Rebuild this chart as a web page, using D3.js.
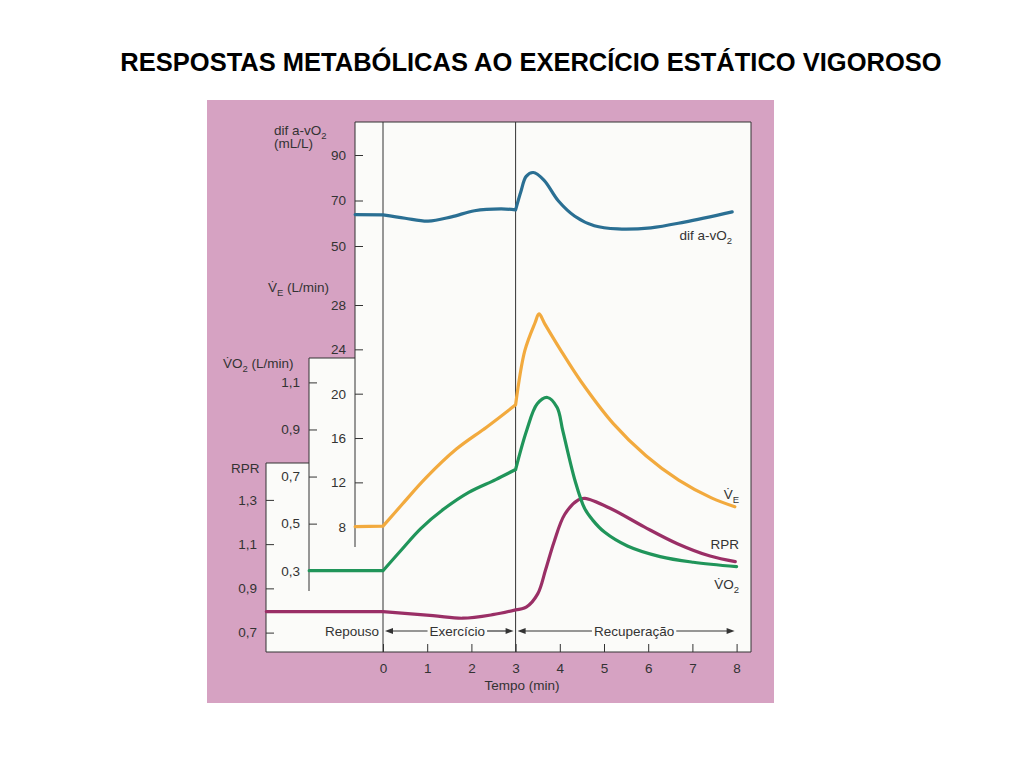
<!DOCTYPE html>
<html>
<head>
<meta charset="utf-8">
<script src="https://cdn.jsdelivr.net/npm/d3@7"></script>
<style>
body { margin: 0; background: #fff; }
svg { display: block; font-family: 'Liberation Sans', Arial, sans-serif; }
</style>
</head>
<body>
<div id="chart"></div>
<script>
'use strict';

var title = 'RESPOSTAS METABÓLICAS AO EXERCÍCIO ESTÁTICO VIGOROSO';

// tempo (min)
var timeTicks = [0, 1, 2, 3, 4, 5, 6, 7, 8];
var phases = [
  { name: 'Exercício', from: 0, to: 3 },
  { name: 'Recuperação', from: 3, to: 8 }
];

// ticks of the four left axes
var difTicks = [50, 70, 90];
var veTicks = [8, 12, 16, 20, 24, 28];
var vo2Ticks = [0.3, 0.5, 0.7, 0.9, 1.1];
var rprTicks = [0.7, 0.9, 1.1, 1.3];

// series as [tempo, valor]
var difData = [[-0.63, 63.8], [0, 63.7], [0.5, 62.2], [1.02, 60.9], [1.55, 62.8], [2.07, 65.5], [2.67, 66.3], [3, 65.9],
  [3.12, 74], [3.24, 80.6], [3.4, 82.3], [3.64, 79], [3.97, 69.8], [4.34, 63.1], [4.78, 58.9], [5.31, 57.5],
  [6.06, 58.0], [6.82, 60.5], [7.9, 65.0]];
var veData = [[-0.63, 8.0], [0, 8.05], [0.43, 10.0], [0.97, 12.4], [1.66, 15.0], [2.35, 17.0], [3, 19.0],
  [3.21, 23.9], [3.44, 26.4], [3.53, 27.2], [3.66, 26.3], [4.04, 23.8], [4.48, 21.1], [5.21, 17.3], [5.95, 14.4],
  [6.69, 12.2], [7.43, 10.6], [7.96, 9.8]];
var vo2Data = [[-1.67, 0.30], [0, 0.30], [0.4, 0.385], [0.86, 0.48], [1.39, 0.564], [1.94, 0.633], [2.55, 0.687],
  [3, 0.73], [3.25, 0.896], [3.49, 1.009], [3.72, 1.036], [3.94, 0.993], [4.07, 0.893], [4.35, 0.679],
  [4.56, 0.565], [4.74, 0.516], [5.01, 0.464], [5.53, 0.405], [6.27, 0.36], [7.02, 0.336], [8.0, 0.317]];
var rprData = [[-2.64, 0.795], [0, 0.795], [1.13, 0.777], [1.8, 0.765], [2.48, 0.781], [3, 0.803],
  [3.24, 0.815], [3.5, 0.875], [3.68, 0.985], [3.87, 1.11], [4.11, 1.234], [4.42, 1.3], [4.57, 1.307],
  [5.16, 1.26], [5.91, 1.178], [6.66, 1.102], [7.4, 1.046], [7.97, 1.021]];

var pink = '#d6a2c2';
var ink = '#333';
var font = 13.5;

var frame = { left: 355, right: 751, top: 122, bottom: 652 };
var vo2Left = 309, vo2Top = 358, vo2Bottom = 591;
var rprLeft = 266, rprTop = 463;
var veBottom = 547;

var svg = d3.select('#chart').append('svg').attr('width', 1024).attr('height', 768);

var x = d3.scaleLinear().domain([0, 8]).range([383, 736.6]);
var yDif = d3.scaleLinear().domain([50, 90]).range([246, 155]);
var yVe = d3.scaleLinear().domain([8, 28]).range([526.7, 305]);
var yVo2 = d3.scaleLinear().domain([0.3, 1.1]).range([570.7, 382.4]);
var yRpr = d3.scaleLinear().domain([0.7, 1.3]).range([632.6, 499.9]);

var ptBR = d3.formatLocale({ decimal: ',', thousands: '.', grouping: [3], currency: ['', ''] });

svg.append('text').attr('x', 531).attr('y', 71).attr('text-anchor', 'middle')
  .attr('font-size', 25.5).attr('font-weight', 'bold').attr('fill', '#000').text(title);

// page background
svg.append('rect').attr('x', 207).attr('y', 100).attr('width', 567).attr('height', 603).attr('fill', pink);

// stepped white plot area
var outline = 'M' + rprLeft + ',' + frame.bottom + 'V' + rprTop + 'H' + vo2Left + 'V' + vo2Top +
  'H' + frame.left + 'V' + frame.top + 'H' + frame.right + 'V' + frame.bottom + 'Z';
svg.append('path').attr('d', outline).attr('fill', '#fbfbf9').attr('stroke', ink).attr('stroke-width', 1);

// axis lines running down inside the lower boxes
svg.append('line').attr('x1', frame.left).attr('x2', frame.left).attr('y1', vo2Top).attr('y2', veBottom)
  .attr('stroke', ink);
svg.append('line').attr('x1', vo2Left).attr('x2', vo2Left).attr('y1', rprTop).attr('y2', vo2Bottom)
  .attr('stroke', ink);

// phase boundaries
svg.selectAll('line.phase').data([0, 3]).enter().append('line').attr('class', 'phase')
  .attr('x1', function (d) { return x(d); }).attr('x2', function (d) { return x(d); })
  .attr('y1', frame.top).attr('y2', frame.bottom).attr('stroke', ink).attr('stroke-width', 1);

function leftAxis(scale, ticks, xPos, fmt) {
  var g = svg.append('g').attr('transform', 'translate(' + xPos + ',0)')
    .call(d3.axisLeft(scale).tickValues(ticks).tickSize(-8).tickPadding(9).tickFormat(fmt));
  g.select('.domain').remove();
  g.selectAll('line').attr('stroke', ink);
  g.selectAll('text').attr('font-size', font).attr('fill', ink).attr('font-family', null);
}

leftAxis(yDif, difTicks, frame.left, d3.format('d'));
leftAxis(yVe, veTicks, frame.left, d3.format('d'));
leftAxis(yVo2, vo2Ticks, vo2Left, ptBR.format('.1f'));
leftAxis(yRpr, rprTicks, rprLeft, ptBR.format('.1f'));

var xg = svg.append('g').attr('transform', 'translate(0,' + frame.bottom + ')')
  .call(d3.axisBottom(x).tickValues(timeTicks).tickSize(-8).tickPadding(11).tickFormat(d3.format('d')));
xg.select('.domain').remove();
xg.selectAll('line').attr('stroke', ink);
xg.selectAll('text').attr('font-size', font).attr('fill', ink).attr('font-family', null);

svg.append('text').attr('x', 522).attr('y', 690).attr('text-anchor', 'middle')
  .attr('font-size', font).attr('fill', ink).text('Tempo (min)');

// axis titles
function label(xPos, yPos, parts, anchor) {
  var t = svg.append('text').attr('x', xPos).attr('y', yPos).attr('font-size', font).attr('fill', ink)
    .attr('text-anchor', anchor || 'start');
  var shift = 0;
  parts.forEach(function (p) {
    var s = t.append('tspan').text(p[0]);
    if (p[1] === 'sub') {
      s.attr('font-size', 9.5).attr('dy', 4 - shift);
      shift = 4;
    } else if (shift) {
      s.attr('dy', -shift);
      shift = 0;
    }
  });
  return t;
}

label(274, 135, [['dif a-vO'], ['2', 'sub']]);
label(274, 148, [['(mL/L)']]);
label(268, 292, [['V\u0307'], ['E', 'sub'], [' (L/min)']]);
label(223, 368, [['V\u0307O'], ['2', 'sub'], [' (L/min)']]);
label(231, 473, [['RPR']]);

// series labels at the right end
label(732, 240, [['dif a-vO'], ['2', 'sub']], 'end');
label(739, 499, [['V\u0307'], ['E', 'sub']], 'end');
label(739, 549, [['RPR']], 'end');
label(739, 589, [['V\u0307O'], ['2', 'sub']], 'end');

// phase captions with arrows
var arrowY = 631;
svg.append('text').attr('x', x(0) - 4).attr('y', arrowY + 5).attr('text-anchor', 'end')
  .attr('font-size', font).attr('fill', ink).text('Repouso');

function arrowHead(tipX, dir) {
  svg.append('path').attr('fill', ink)
    .attr('d', 'M' + tipX + ',' + arrowY + 'L' + (tipX - dir * 8) + ',' + (arrowY - 3) + 'L' + (tipX - dir * 8) + ',' + (arrowY + 3) + 'Z');
}

phases.forEach(function (p) {
  var x0 = x(p.from) + 2, x1 = x(p.to) - 2;
  var cx = (x(p.from) + x(p.to)) / 2 + 8;
  var txt = svg.append('text').attr('x', cx).attr('y', arrowY + 5).attr('text-anchor', 'middle')
    .attr('font-size', font).attr('fill', ink).text(p.name);
  var w = txt.node().getComputedTextLength();
  svg.append('line').attr('x1', x0 + 6).attr('x2', cx - w / 2 - 2).attr('y1', arrowY).attr('y2', arrowY)
    .attr('stroke', ink).attr('stroke-width', 1.2);
  svg.append('line').attr('x1', cx + w / 2 + 2).attr('x2', x1 - 6).attr('y1', arrowY).attr('y2', arrowY)
    .attr('stroke', ink).attr('stroke-width', 1.2);
  arrowHead(x0, -1);
  arrowHead(x1, 1);
});

// curves: drawn per phase so the corners at 0 and 3 min stay sharp
function segments(data) {
  return [
    data.filter(function (d) { return d[0] <= 0; }),
    data.filter(function (d) { return d[0] >= 0 && d[0] <= 3; }),
    data.filter(function (d) { return d[0] >= 3; })
  ];
}

function drawSeries(data, yScale, color) {
  var line = d3.line().x(function (d) { return x(d[0]); }).y(function (d) { return yScale(d[1]); })
    .curve(d3.curveCatmullRom.alpha(0.5));
  svg.append('path').attr('fill', 'none').attr('stroke', color).attr('stroke-width', 3.2)
    .attr('stroke-linejoin', 'round').attr('stroke-linecap', 'round')
    .attr('d', segments(data).map(function (s) { return line(s); }).join(''));
}

drawSeries(rprData, yRpr, '#9a2f66');
drawSeries(veData, yVe, '#f2aa3e');
drawSeries(vo2Data, yVo2, '#20955a');
drawSeries(difData, yDif, '#2a6f93');
</script>
</body>
</html>
